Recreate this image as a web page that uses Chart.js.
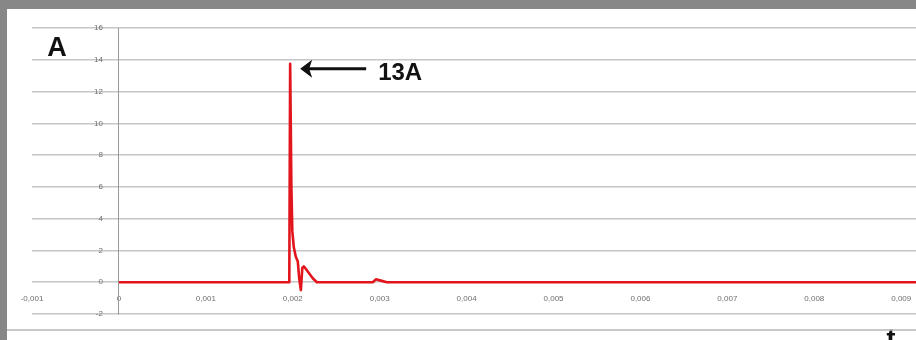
<!DOCTYPE html>
<html>
<head>
<meta charset="utf-8">
<script src="https://cdn.jsdelivr.net/npm/chart.js@4.4.1/dist/chart.umd.min.js"></script>
<style>
    html, body { margin: 0; padding: 0; }
    body { width: 916px; height: 340px; background: #878787; position: relative; overflow: hidden; }
    #frame { position: absolute; left: 7px; top: 9px; width: 909px; height: 331px; background: #ffffff; }
    #chart { display: block; }
</style>
</head>
<body>
<div id="frame"><canvas id="chart" width="909" height="331"></canvas></div>
<script>
    /* DATA */

    var timeValues = [
        0, 0.00196, 0.00197, 0.001984, 0.001995, 0.002012, 0.002035, 0.002058, 0.002075,
        0.002093, 0.00211, 0.002127, 0.002162, 0.002196, 0.00223, 0.002277,
        0.002921, 0.002956, 0.003013, 0.003082, 0.0094
    ];
    var currentValues = [
        0, 0, 13.75, 6, 3.2, 2.2, 1.6, 1.3, 0.2,
        -0.5, 0.9, 1.0, 0.75, 0.5, 0.25, 0,
        0, 0.18, 0.1, 0, 0
    ];

    var xTickValues = [-0.001, 0, 0.001, 0.002, 0.003, 0.004, 0.005, 0.006, 0.007, 0.008, 0.009];
    var xTickLabels = ['-0,001', '0', '0,001', '0,002', '0,003', '0,004', '0,005', '0,006', '0,007', '0,008', '0,009'];
    var yTickValues = [-2, 0, 2, 4, 6, 8, 10, 12, 14, 16];

    var peakLabel = '13A';
    var yAxisTitle = 'A';
    var xAxisTitle = 't';

    /* CHART */

    var annotations = {
        id: 'annotations',
        afterDraw: (chart) => {
            var ctx = chart.ctx;
            var x = chart.scales.x;
            var y = chart.scales.y;
            var peakIndex = currentValues.indexOf(Math.max(...currentValues));
            var tipX = x.getPixelForValue(timeValues[peakIndex]) + 10;
            var tipY = y.getPixelForValue(currentValues[peakIndex]) + 5;

            ctx.save();
            ctx.fillStyle = '#111111';
            ctx.strokeStyle = '#111111';

            // arrow to the peak
            ctx.lineWidth = 3;
            ctx.beginPath();
            ctx.moveTo(tipX + 6, tipY);
            ctx.lineTo(tipX + 66, tipY);
            ctx.stroke();
            ctx.beginPath();
            ctx.moveTo(tipX, tipY);
            ctx.lineTo(tipX + 12, tipY - 9);
            ctx.lineTo(tipX + 9, tipY);
            ctx.lineTo(tipX + 12, tipY + 9);
            ctx.closePath();
            ctx.fill();

            ctx.font = 'bold 24px "Liberation Sans", Arial, sans-serif';
            ctx.textBaseline = 'middle';
            ctx.textAlign = 'left';
            ctx.fillText(peakLabel, tipX + 78, tipY + 5);

            ctx.font = 'bold 27px "Liberation Sans", Arial, sans-serif';
            ctx.textAlign = 'center';
            ctx.fillText(yAxisTitle, 50, 40);

            ctx.fillText(xAxisTitle, 884, 332);

            // bottom frame line
            ctx.strokeStyle = '#b4b4b4';
            ctx.lineWidth = 1.5;
            ctx.beginPath();
            ctx.moveTo(0, 321);
            ctx.lineTo(chart.width, 321);
            ctx.stroke();
            ctx.restore();
        }
    };

    var getChartConfiguration = () => {
        return {
            type: 'line',
            data: {
                datasets: [
                    {
                        data: timeValues.map((t, i) => ({ x: t, y: currentValues[i] })),
                        borderColor: '#e2141c',
                        borderWidth: 2.6,
                        borderJoinStyle: 'round',
                        pointRadius: 0,
                        tension: 0,
                        fill: false
                    }
                ]
            },
            options: {
                responsive: false,
                animation: false,
                layout: { padding: { left: 25, right: 0, top: 19, bottom: 26 } },
                scales: {
                    x: {
                        type: 'linear',
                        min: -0.001,
                        max: 0.00917,
                        position: { y: 0 },
                        afterBuildTicks: (scale) => { scale.ticks = xTickValues.map(v => ({ value: v })); },
                        grid: { display: true, drawOnChartArea: false, drawTicks: true, tickLength: 12, tickColor: 'rgba(0,0,0,0)' },
                        border: { display: false },
                        ticks: {
                            autoSkip: false,
                            maxRotation: 0,
                            padding: 0,
                            color: '#6e6e6e',
                            font: { family: '"Liberation Sans", Arial, sans-serif', size: 8 },
                            callback: (value, index) => xTickLabels[index]
                        }
                    },
                    y: {
                        type: 'linear',
                        min: -2,
                        max: 16,
                        position: { x: 0 },
                        afterBuildTicks: (scale) => { scale.ticks = yTickValues.map(v => ({ value: v })); },
                        grid: { color: '#c6c6c6', lineWidth: 1.6, drawTicks: false },
                        border: { display: true, color: '#9a9a9a', width: 1 },
                        ticks: {
                            padding: 0,
                            color: '#6e6e6e',
                            font: { family: '"Liberation Sans", Arial, sans-serif', size: 8 },
                            // labels sit left of the crossing axis, keep a gap like the original
                            callback: (value) => value + '\u2003\u2003'
                        }
                    }
                },
                plugins: {
                    title: { display: false },
                    legend: { display: false },
                    tooltip: { enabled: false }
                }
            },
            plugins: [annotations]
        };
    };

    var chartArea = document.getElementById('chart');
    var chart = new Chart(chartArea, getChartConfiguration());
</script>
</body>
</html>
